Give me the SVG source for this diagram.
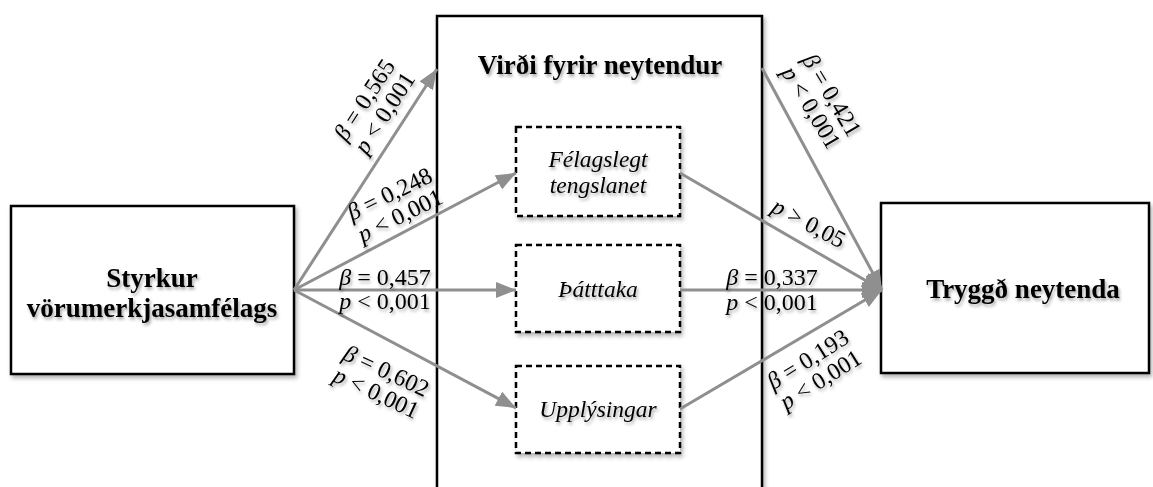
<svg xmlns="http://www.w3.org/2000/svg" width="1153" height="487" viewBox="0 0 1153 487">
<defs>
<style>
.box{fill:#fff;stroke:#000;stroke-width:2.5}
.dbox{fill:#fff;stroke:#000;stroke-width:2.5;stroke-dasharray:6 4}
.title{font-family:"Liberation Serif","Times New Roman",serif;font-weight:bold;font-size:27px;fill:#000;text-anchor:middle}
.sub{font-family:"Liberation Serif","Times New Roman",serif;font-style:italic;font-size:23.5px;fill:#000;text-anchor:middle}
.lab{font-family:"Liberation Serif","Times New Roman",serif;font-size:24px;fill:#000;text-anchor:middle}
.lab tspan.i{font-style:italic}
.arr{stroke:#8f8f8f;stroke-width:3;fill:none;marker-end:url(#ah)}
</style>
<marker id="ah" markerUnits="userSpaceOnUse" markerWidth="22" markerHeight="18" refX="20" refY="8" orient="auto">
<path d="M0,0 L20,8 L0,16 z" fill="#8f8f8f"/>
</marker>
<filter id="sh" x="-10%" y="-10%" width="130%" height="140%">
<feDropShadow dx="2" dy="3" stdDeviation="2" flood-color="#000" flood-opacity="0.3"/>
</filter>
<filter id="tsh" x="-10%" y="-20%" width="130%" height="160%">
<feDropShadow dx="1.5" dy="2.5" stdDeviation="1.5" flood-color="#000" flood-opacity="0.35"/>
</filter>
</defs>
<rect width="1153" height="487" fill="#fff"/>

<g id="node-virdi">
<rect class="box" x="437" y="16" width="325" height="490" filter="url(#sh)"/>
<text class="title" x="600" y="74" filter="url(#tsh)">Virði fyrir neytendur</text>
</g>

<g id="node-styrkur">
<rect class="box" x="11" y="206" width="283" height="168" filter="url(#sh)"/>
<text class="title" x="152" y="287" filter="url(#tsh)">Styrkur</text>
<text class="title" x="152" y="317" filter="url(#tsh)">vörumerkjasamfélags</text>
</g>

<g id="node-tryggd">
<rect class="box" x="881" y="203" width="268" height="170" filter="url(#sh)"/>
<text class="title" x="1023" y="298" filter="url(#tsh)">Tryggð neytenda</text>
</g>

<g id="node-felagslegt">
<rect class="dbox" x="516" y="127" width="164" height="89" filter="url(#sh)"/>
<text class="sub" x="598" y="167" filter="url(#tsh)">Félagslegt</text>
<text class="sub" x="598" y="193" filter="url(#tsh)">tengslanet</text>
</g>

<g id="node-thatttaka">
<rect class="dbox" x="516" y="245" width="164" height="87" filter="url(#sh)"/>
<text class="sub" x="598" y="297" filter="url(#tsh)">Þátttaka</text>
</g>

<g id="node-upplysingar">
<rect class="dbox" x="516" y="366" width="164" height="87" filter="url(#sh)"/>
<text class="sub" x="598" y="417" filter="url(#tsh)">Upplýsingar</text>
</g>

<g id="connectors">
<line class="arr" x1="294" y1="290" x2="437" y2="69"/>
<line class="arr" x1="294" y1="290" x2="516" y2="173"/>
<line class="arr" x1="294" y1="290" x2="516" y2="290"/>
<line class="arr" x1="294" y1="290" x2="516" y2="408"/>
<line class="arr" x1="762" y1="68" x2="882" y2="290"/>
<line class="arr" x1="680" y1="173" x2="882" y2="290"/>
<line class="arr" x1="680" y1="290" x2="882" y2="290"/>
<line class="arr" x1="680" y1="409" x2="882" y2="290"/>
</g>

<g id="labels" filter="url(#tsh)">
<g transform="translate(371,104) rotate(-57)">
<text class="lab" x="0" y="0"><tspan class="i">β</tspan> = 0,565</text>
<text class="lab" x="0" y="24"><tspan class="i">p</tspan> &lt; 0,001</text>
</g>
<g transform="translate(393,201) rotate(-26)">
<text class="lab" x="0" y="0"><tspan class="i">β</tspan> = 0,248</text>
<text class="lab" x="0" y="24"><tspan class="i">p</tspan> &lt; 0,001</text>
</g>
<text class="lab" x="385" y="285"><tspan class="i">β</tspan> = 0,457</text>
<text class="lab" x="385" y="309"><tspan class="i">p</tspan> &lt; 0,001</text>
<g transform="translate(383,378) rotate(25)">
<text class="lab" x="0" y="0"><tspan class="i">β</tspan> = 0,602</text>
<text class="lab" x="0" y="24"><tspan class="i">p</tspan> &lt; 0,001</text>
</g>
<g transform="translate(825,99) rotate(59)">
<text class="lab" x="0" y="0"><tspan class="i">β</tspan> = 0,421</text>
<text class="lab" x="0" y="24"><tspan class="i">p</tspan> &lt; 0,001</text>
</g>
<g transform="translate(805,230) rotate(28)">
<text class="lab" x="0" y="0"><tspan class="i">p</tspan> &gt; 0,05</text>
</g>
<text class="lab" x="772" y="285"><tspan class="i">β</tspan> = 0,337</text>
<text class="lab" x="772" y="310"><tspan class="i">p</tspan> &lt; 0,001</text>
<g transform="translate(812,366) rotate(-32)">
<text class="lab" x="0" y="0"><tspan class="i">β</tspan> = 0,193</text>
<text class="lab" x="0" y="24"><tspan class="i">p</tspan> &lt; 0,001</text>
</g>
</g>
</svg>
